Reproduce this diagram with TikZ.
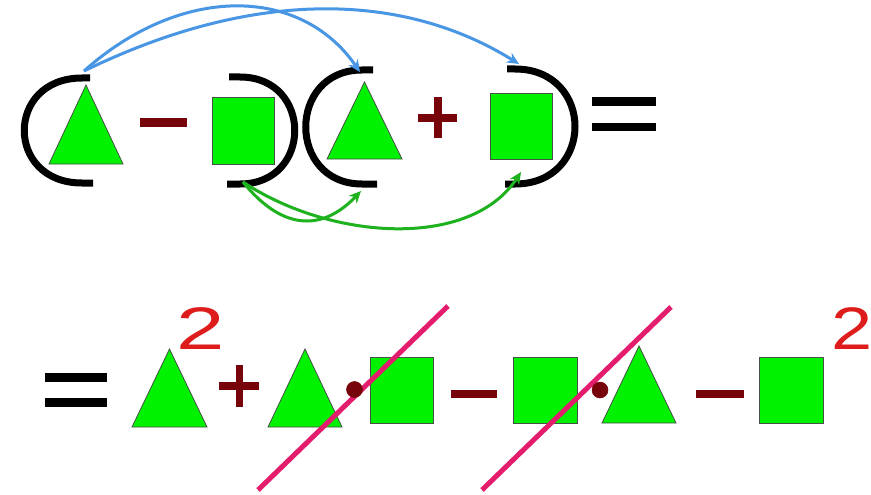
\documentclass[tikz,border=0pt]{standalone}
\usepackage{fontspec}
\setmainfont{Liberation Sans}
\usetikzlibrary{arrows.meta}
\definecolor{shapegreen}{RGB}{0,242,0}
\definecolor{shapeedge}{RGB}{70,80,70}
\definecolor{opred}{RGB}{118,4,10}
\definecolor{arrblue}{RGB}{72,150,228}
\definecolor{arrgreen}{RGB}{30,178,30}
\definecolor{crosspink}{RGB}{228,28,110}
\definecolor{supred}{RGB}{222,28,28}
\tikzset{
  tristyle/.style={fill=shapegreen,draw=shapeedge,line width=0.8pt,line join=miter},
  sqbox/.style={rectangle,fill=shapegreen,draw=shapeedge,line width=0.8pt,inner sep=0pt},
  paren/.style={draw=black,line width=7pt,line cap=butt},
  opbar/.style={fill=opred},
  eqbar/.style={fill=black},
  blueline/.style={draw=arrblue,line width=3pt,-{Stealth[length=12pt,width=11pt]}},
  greenline/.style={draw=arrgreen,line width=3pt,-{Stealth[length=12pt,width=11pt]}},
  crossline/.style={draw=crosspink,line width=5pt},
  supnum/.style={inner sep=0pt,text=supred,font=\fontsize{60}{60}\selectfont,xscale=1.45},
  dotop/.style={circle,fill=opred,draw=opred,line width=0.5pt,inner sep=0pt,minimum size=16pt}
}
\newcommand\mytri[4]{\draw[tristyle] (#1,#2) -- (#1+#3,#4) -- (#1-#3,#4) -- cycle;}
\begin{document}
\begin{tikzpicture}[x=1pt,y=-1pt]
\useasboundingbox (0,0) rectangle (871,495);
\fill[white] (0,0) rectangle (871,495);
\clip (0,0) rectangle (871,495);

% ---------- top row ----------
\mytri{86}{85}{37}{164}
\node[sqbox,minimum width=62pt,minimum height=67pt] (s1) at (243,130.5) {};
\mytri{364.5}{82}{37.5}{159}
\node[sqbox,minimum width=62pt,minimum height=66pt] (s2) at (521,126) {};

% parentheses
\draw[paren] (90,78) -- (82,78) .. controls (5,78) and (5,183) .. (82,183) -- (93,183);
\draw[paren] (229,77) -- (240,77) .. controls (313,77) and (313,184) .. (240,184) -- (227,184);
\draw[paren] (373,70) -- (362,70) .. controls (287,70) and (287,184) .. (362,184) -- (377,184);
\draw[paren] (507,69) -- (515,69) .. controls (595,69) and (595,184) .. (515,184) -- (505,184);

% operators
\fill[opbar] (140,118) rectangle (187,127);
\fill[opbar] (418,114) rectangle (457,122);
\fill[opbar] (433.5,97) rectangle (442,138);
\fill[eqbar] (592,97) rectangle (656,106);
\fill[eqbar] (592,123) rectangle (656,131);

% arrows
\coordinate (b0) at (84,71);
\coordinate (b1) at (360,72);
\coordinate (b2) at (519,64);
\coordinate (g0) at (243,182);
\coordinate (g1) at (361,191);
\coordinate (g2) at (521,172);
\draw[blueline] (b0) .. controls (180,-15) and (300,-15) .. (b1);
\draw[blueline] (b0) .. controls (250,-10) and (400,-10) .. (b2);
\draw[greenline] (g0) .. controls (280,228) and (320,234) .. (g1);
\draw[greenline] (g0) .. controls (330,240) and (470,250) .. (g2);

% ---------- bottom row ----------
\fill[eqbar] (45,373) rectangle (107,382);
\fill[eqbar] (45,398) rectangle (107,407);
\mytri{169.5}{349}{37.5}{427}
\node[supnum] (sq1) at (201,329) {2};
\fill[opbar] (219,382) rectangle (259,390);
\fill[opbar] (235.5,365) rectangle (242.5,407);
\mytri{305}{349}{37}{427}
\node[sqbox,minimum width=63pt,minimum height=66pt] (s3) at (401.5,390) {};
\fill[opbar] (451,390) rectangle (497,398);
\node[sqbox,minimum width=64pt,minimum height=66pt] (s4) at (545,390) {};
\mytri{639}{346}{37}{423}
\fill[opbar] (696,390) rectangle (744,398);
\node[sqbox,minimum width=64pt,minimum height=66pt] (s5) at (791,390) {};
\node[supnum,xscale=0.85] (sq2) at (852,329) {2};

% cancel strokes
\coordinate (c1a) at (258,490);
\coordinate (c1b) at (448,306);
\coordinate (c2a) at (482,490);
\coordinate (c2b) at (671,307);
\draw[crossline] (c1a) -- (c1b);
\draw[crossline] (c2a) -- (c2b);

% multiplication dots (on top of the strokes)
\node[dotop] (d1) at (354.5,389.5) {};
\node[dotop] (d2) at (600,390) {};
\end{tikzpicture}
\end{document}
